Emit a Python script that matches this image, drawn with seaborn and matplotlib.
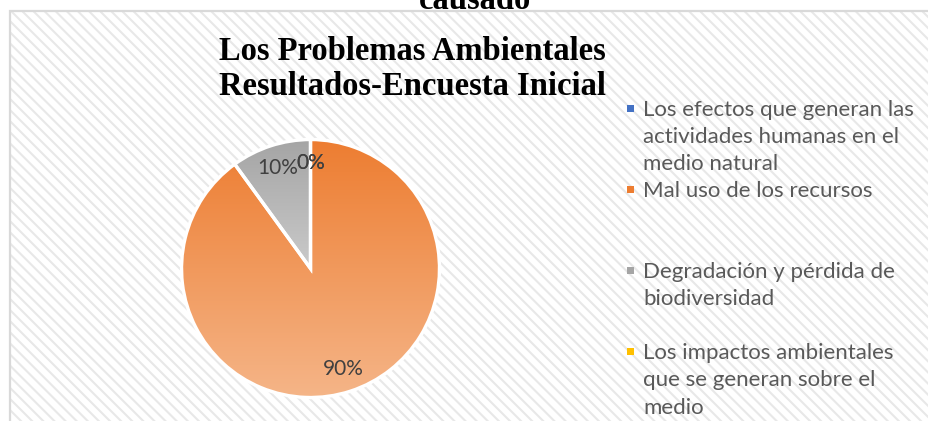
import matplotlib
matplotlib.use("Agg")
import matplotlib.pyplot as plt
import matplotlib.patches as mpatches
from matplotlib.colors import LinearSegmentedColormap
from matplotlib.legend_handler import HandlerBase
import numpy as np
import seaborn as sns

# chart data
title_text = "Los Problemas Ambientales\nResultados-Encuesta Inicial"
top_cut_text = "causado"
categories = [
    "Los efectos que generan las\nactividades humanas en el\nmedio natural",
    "Mal uso de los recursos",
    "Degradación y pérdida de\nbiodiversidad",
    "Los impactos ambientales\nque se generan sobre el\nmedio",
]
percent = [0, 90, 10, 0]
base_colors = ["#4472C4", "#ED7D31", "#A5A5A5", "#FFC000"]
light_colors = ["#8FAADC", "#F5B588", "#CACACA", "#FFD966"]

W, H = 929, 421
LINE_UP = 20.8  # points, lift legend square to first text line


class TopSquare(HandlerBase):
    def create_artists(self, legend, orig_handle, xdescent, ydescent,
                       width, height, fontsize, trans):
        s = 5.2
        r = mpatches.Rectangle((-xdescent + width - s, -ydescent + height / 2 - s / 2 + LINE_UP),
                               s, s, facecolor=orig_handle.get_facecolor(),
                               edgecolor='none', transform=trans)
        return [r]


sns.set_theme(style="white")
plt.rcParams['font.family'] = ['Lato', 'DejaVu Sans']
plt.rcParams['hatch.linewidth'] = 1.5

fig = plt.figure(figsize=(W / 100, H / 100), dpi=100)
fig.patch.set_facecolor('white')

# hatched chart area with light border
bg = mpatches.Rectangle((10 / W, -0.1), 1.2, (H - 11) / H + 0.1, transform=fig.transFigure,
                        facecolor='white', edgecolor='#E8E8E8', hatch='\\\\\\',
                        linewidth=0, zorder=-2)
fig.add_artist(bg)
border = mpatches.Rectangle((10 / W, -0.1), 1.2, (H - 11) / H + 0.1, transform=fig.transFigure,
                            facecolor='none', edgecolor='#D9D9D9', linewidth=1.6, zorder=-1)
fig.add_artist(border)

ax = fig.add_axes([0.1815, 0.0252, 0.3055, 0.674])
ax.set_facecolor('none')
wedges, texts, autotexts = ax.pie(
    percent, colors=base_colors, startangle=90, counterclock=False,
    autopct='%1.0f%%', pctdistance=0.82,
    wedgeprops=dict(edgecolor='white', linewidth=2.4),
    textprops=dict(color='#404040', fontsize=15))

# vertical gradient fill for each slice
grad = np.linspace(0, 1, 256).reshape(-1, 1)
for w, v, c0, c1 in zip(wedges, percent, base_colors, light_colors):
    if v == 0:
        continue
    verts = w.get_path().vertices
    cmap = LinearSegmentedColormap.from_list("g", [c0, c1])
    im = ax.imshow(grad, cmap=cmap, origin='upper', aspect='auto',
                   extent=(-1, 1, verts[:, 1].min(), verts[:, 1].max()), zorder=2)
    im.set_clip_path(w)
    w.set_facecolor('none')
    w.set_zorder(3)
for t in autotexts:
    t.set_zorder(4)

ax.set_xlim(-1.1, 1.1)
ax.set_ylim(-1.1, 1.1)
ax.set_aspect('equal')
ax.axis('off')

# legend, every entry gets the same 3-line slot
padded = [c + "\n" * (2 - c.count("\n")) for c in categories]
handles = [mpatches.Patch(facecolor=c) for c in base_colors]
leg = fig.legend(handles, padded, loc='upper left', bbox_to_anchor=(622 / W, 1 - 100 / H),
                 frameon=False, fontsize=16, handler_map={mpatches.Patch: TopSquare()},
                 handlelength=0.55, handletextpad=0.4, labelspacing=0.3,
                 borderpad=0, borderaxespad=0)
for t in leg.get_texts():
    t.set_color('#595959')
    t.set_linespacing(1.45)

fig.text(412 / W, 1 - 36 / H, title_text, ha='center', va='top', fontsize=23.5,
         fontweight='bold', family=['Liberation Serif'], linespacing=1.18, color='black')
fig.text(475 / W, 1 - 9 / H, top_cut_text, ha='center', va='baseline', fontsize=23.5,
         fontweight='bold', family=['Liberation Serif'], color='black')

fig.savefig("out.png", dpi=100)
